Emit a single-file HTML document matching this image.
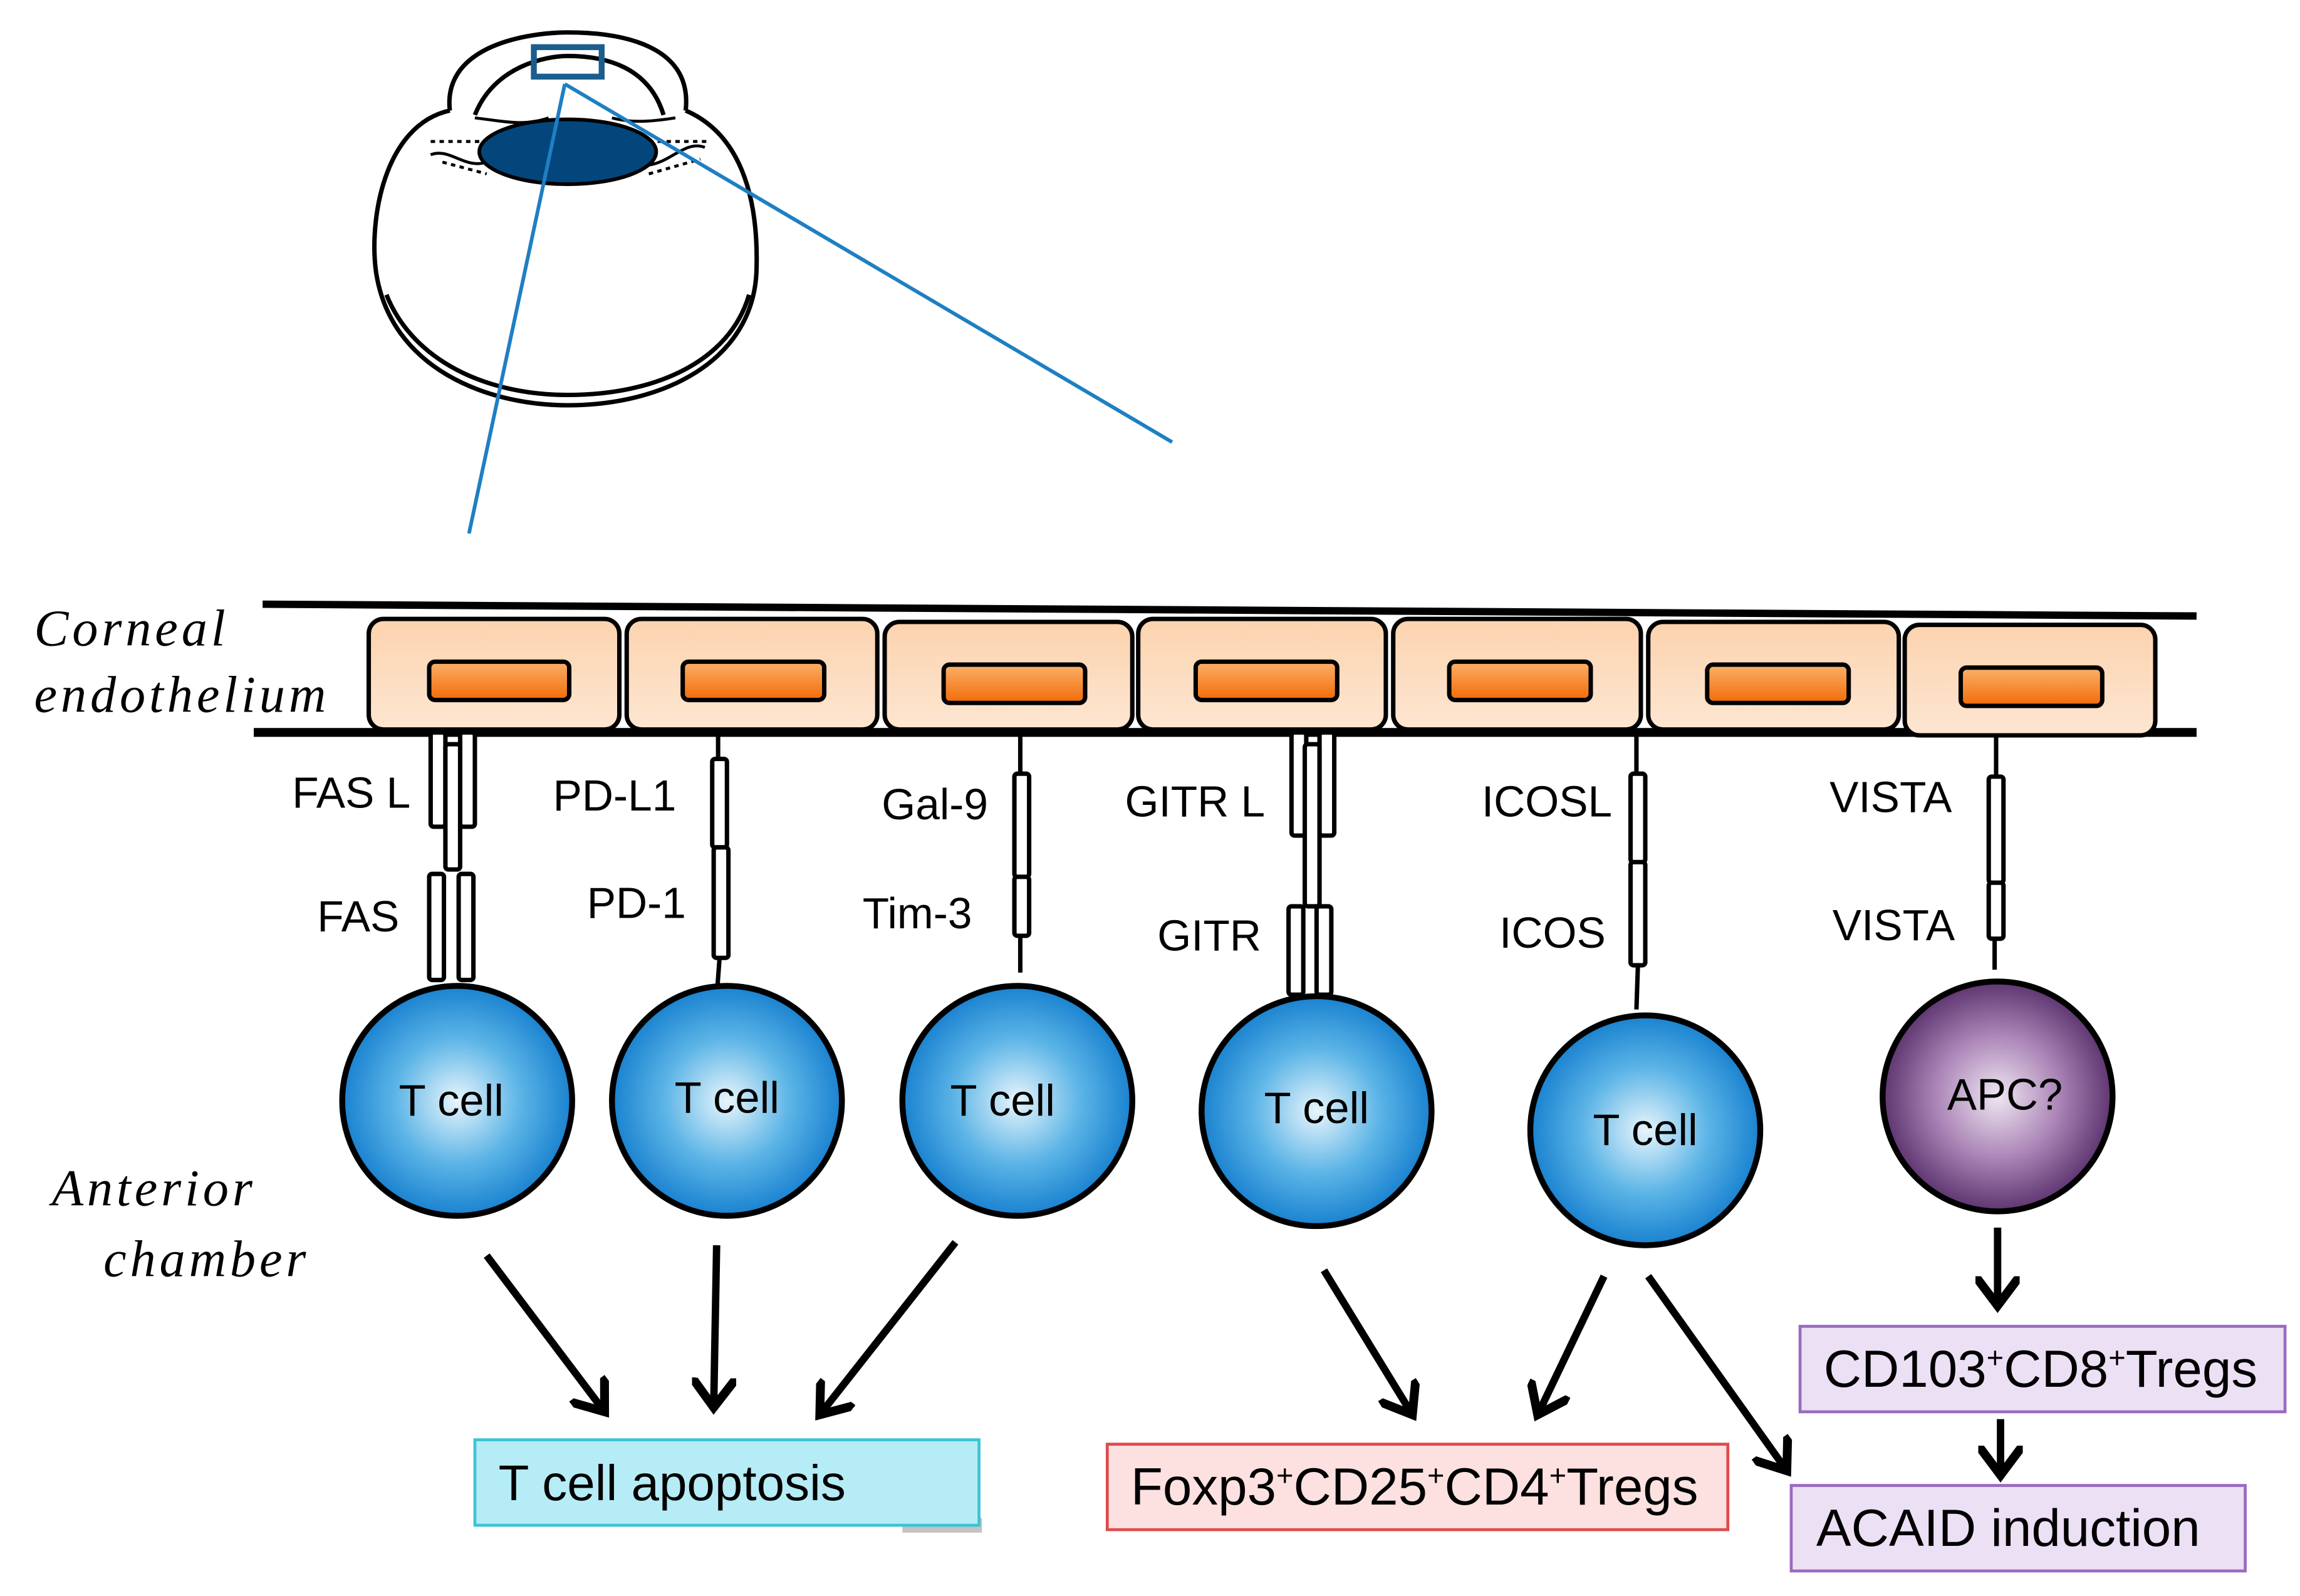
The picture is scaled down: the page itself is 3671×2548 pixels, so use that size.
<!DOCTYPE html>
<html><head><meta charset="utf-8"><style>html,body{margin:0;padding:0;background:#fff}svg{display:block}</style></head><body>
<svg width="3671" height="2548" viewBox="0 0 1560 1083" xmlns="http://www.w3.org/2000/svg" font-family="Liberation Sans, sans-serif">
<defs>
<linearGradient id="cellg" x1="0" y1="0" x2="0" y2="1"><stop offset="0" stop-color="#fcd3ae"/><stop offset="1" stop-color="#fde6d2"/></linearGradient>
<linearGradient id="nuc" x1="0" y1="0" x2="0" y2="1"><stop offset="0" stop-color="#fbb16a"/><stop offset="1" stop-color="#f26b07"/></linearGradient>
<radialGradient id="tc" cx="0.5" cy="0.5" r="0.5"><stop offset="0" stop-color="#e8f5fc"/><stop offset="0.55" stop-color="#5bb4e6"/><stop offset="1" stop-color="#1a82d0"/></radialGradient>
<radialGradient id="apc" cx="0.5" cy="0.5" r="0.5"><stop offset="0" stop-color="#efe6f2"/><stop offset="0.55" stop-color="#a983b5"/><stop offset="1" stop-color="#5e3570"/></radialGradient>
<marker id="ah" markerWidth="6" markerHeight="6" refX="4" refY="3" orient="auto" markerUnits="strokeWidth"><path d="M0,0 L4,3 L0,6" fill="none" stroke="#000" stroke-width="1.2"/></marker>
</defs>
<g fill="none" stroke="#000" stroke-width="3">
<path d="M305,75 C300,30 360,22 385,22 C420,22 470,30 465,75"/>
<path d="M322,78 C335,45 370,38 385,38 C410,38 440,45 450,78"/>
<path d="M305,75 C260,85 250,150 255,185 C265,250 330,275 385,275 C450,275 510,245 513,185 C515,130 500,90 465,75"/>
<path d="M262,200 C280,245 330,268 385,268 C445,268 495,245 508,200"/>
<path d="M322,80 C340,82 355,86 372,80 M415,80 C430,84 445,82 458,80" stroke-width="2"/>
<path d="M292,105 C305,100 315,115 330,110 M440,112 C455,110 465,95 478,100" stroke-width="2"/>
<path d="M292,96 L330,96 M440,96 L480,96 M300,110 L330,118 M440,118 L475,108" stroke-dasharray="3,3" stroke-width="2"/>
</g>
<ellipse cx="385" cy="103" rx="60" ry="22" fill="#03467c" stroke="#000" stroke-width="2.5"/>
<rect x="362" y="32" width="46" height="20" fill="none" stroke="#1b5e8e" stroke-width="4"/>
<line x1="383" y1="57" x2="318" y2="362" stroke="#1e7fc3" stroke-width="2.5"/>
<line x1="383" y1="57" x2="795" y2="300" stroke="#1e7fc3" stroke-width="2.5"/>
<line x1="178" y1="410" x2="1490" y2="418" stroke="#000" stroke-width="5"/>
<line x1="172" y1="497" x2="1490" y2="497" stroke="#000" stroke-width="6"/>
<g stroke="#000" stroke-width="3">
<rect x="250" y="420" width="170" height="75" rx="10" fill="url(#cellg)"/>
<rect x="425" y="420" width="170" height="75" rx="10" fill="url(#cellg)"/>
<rect x="600" y="422" width="168" height="73" rx="10" fill="url(#cellg)"/>
<rect x="772" y="420" width="168" height="75" rx="10" fill="url(#cellg)"/>
<rect x="945" y="420" width="168" height="75" rx="10" fill="url(#cellg)"/>
<rect x="1118" y="422" width="170" height="73" rx="10" fill="url(#cellg)"/>
<rect x="1292" y="424" width="170" height="75" rx="10" fill="url(#cellg)"/>
<rect x="291" y="449" width="95" height="26" rx="4" fill="url(#nuc)"/>
<rect x="463" y="449" width="96" height="26" rx="4" fill="url(#nuc)"/>
<rect x="640" y="451" width="96" height="26" rx="4" fill="url(#nuc)"/>
<rect x="811" y="449" width="96" height="26" rx="4" fill="url(#nuc)"/>
<rect x="983" y="449" width="96" height="26" rx="4" fill="url(#nuc)"/>
<rect x="1158" y="451" width="96" height="26" rx="4" fill="url(#nuc)"/>
<rect x="1330" y="453" width="96" height="26" rx="4" fill="url(#nuc)"/>
</g>
<g fill="#fff" stroke="#000" stroke-width="3">
<rect x="292" y="497" width="10" height="64" rx="2"/><rect x="312" y="497" width="10" height="64" rx="2"/>
<rect x="302" y="505" width="10" height="85" rx="2"/>
<rect x="291" y="593" width="10" height="72" rx="2"/><rect x="311" y="593" width="10" height="72" rx="2"/>
<rect x="483" y="515" width="10" height="60" rx="2"/><rect x="484" y="575" width="10" height="75" rx="2"/>
<rect x="688" y="525" width="10" height="70" rx="2"/><rect x="688" y="595" width="10" height="40" rx="2"/>
<rect x="876" y="497" width="10" height="70" rx="2"/><rect x="895" y="497" width="10" height="70" rx="2"/>
<rect x="885" y="505" width="10" height="110" rx="2"/>
<rect x="874" y="615" width="10" height="60" rx="2"/><rect x="893" y="615" width="10" height="60" rx="2"/>
<rect x="1106" y="525" width="10" height="60" rx="2"/><rect x="1106" y="585" width="10" height="70" rx="2"/>
<rect x="1349" y="527" width="10" height="72" rx="2"/><rect x="1349" y="599" width="10" height="38" rx="2"/>
</g>
<g stroke="#000" stroke-width="3">
<line x1="487" y1="497" x2="487" y2="515"/><line x1="488" y1="650" x2="486" y2="677"/>
<line x1="692" y1="497" x2="692" y2="525"/><line x1="692" y1="635" x2="692" y2="660"/>
<line x1="1110" y1="497" x2="1110" y2="525"/><line x1="1111" y1="655" x2="1110" y2="685"/>
<line x1="1354" y1="499" x2="1354" y2="527"/><line x1="1353" y1="637" x2="1353" y2="658"/>
</g>
<g stroke="#000" stroke-width="4">
<circle cx="310" cy="747" r="78" fill="url(#tc)"/>
<circle cx="493" cy="747" r="78" fill="url(#tc)"/>
<circle cx="690" cy="747" r="78" fill="url(#tc)"/>
<circle cx="893" cy="754" r="78" fill="url(#tc)"/>
<circle cx="1116" cy="767" r="78" fill="url(#tc)"/>
<circle cx="1355" cy="744" r="78" fill="url(#apc)"/>
</g>
<g font-size="30" text-anchor="middle">
<text x="306" y="757">T cell</text><text x="493" y="755">T cell</text><text x="680" y="757">T cell</text>
<text x="893" y="762">T cell</text><text x="1116" y="777">T cell</text><text x="1360" y="753">APC?</text>
</g>
<g font-size="29.5">
<text x="198" y="548">FAS L</text><text x="215" y="632">FAS</text>
<text x="375" y="550">PD-L1</text><text x="398" y="623">PD-1</text>
<text x="598" y="556">Gal-9</text><text x="585" y="630">Tim-3</text>
<text x="763" y="554">GITR L</text><text x="785" y="645">GITR</text>
<text x="1005" y="554">ICOSL</text><text x="1017" y="643">ICOS</text>
<text x="1241" y="551">VISTA</text><text x="1243" y="638">VISTA</text>
</g>
<g font-family="Liberation Serif, serif" font-style="italic" font-size="35" letter-spacing="2.5">
<text x="23" y="438">Corneal</text><text x="23" y="483">endothelium</text>
<text x="35" y="818">Anterior</text><text x="70" y="866">chamber</text>
</g>
<g stroke="#000" stroke-width="5" fill="none" marker-end="url(#ah)">
<line x1="330" y1="852" x2="410" y2="958"/>
<line x1="486" y1="845" x2="484" y2="955"/>
<line x1="648" y1="843" x2="556" y2="960"/>
<line x1="898" y1="862" x2="958" y2="960"/>
<line x1="1088" y1="866" x2="1043" y2="960"/>
<line x1="1118" y1="866" x2="1212" y2="998"/>
<line x1="1355" y1="833" x2="1355" y2="886"/>
<line x1="1357" y1="963" x2="1357" y2="1001"/>
</g>
<rect x="612" y="1030" width="54" height="10" fill="#888" opacity="0.5"/>
<rect x="322" y="977" width="342" height="58" fill="#b6ecf6" stroke="#3cc4d4" stroke-width="2"/>
<rect x="751" y="980" width="421" height="58" fill="#fde1e1" stroke="#e04a4a" stroke-width="2"/>
<rect x="1221" y="900" width="329" height="58" fill="#ece0f5" stroke="#9a6ac0" stroke-width="2"/>
<rect x="1215" y="1008" width="308" height="58" fill="#ece0f5" stroke="#9a6ac0" stroke-width="2"/>
<g font-size="35.5">
<text x="338" y="1018" font-size="34">T cell apoptosis</text>
<text x="767" y="1021">Foxp3<tspan font-size="20" dy="-13">+</tspan><tspan dy="13">CD25</tspan><tspan font-size="20" dy="-13">+</tspan><tspan dy="13">CD4</tspan><tspan font-size="20" dy="-13">+</tspan><tspan dy="13">Tregs</tspan></text>
<text x="1237" y="941">CD103<tspan font-size="20" dy="-13">+</tspan><tspan dy="13">CD8</tspan><tspan font-size="20" dy="-13">+</tspan><tspan dy="13">Tregs</tspan></text>
<text x="1232" y="1049">ACAID induction</text>
</g>
</svg>
</body></html>
